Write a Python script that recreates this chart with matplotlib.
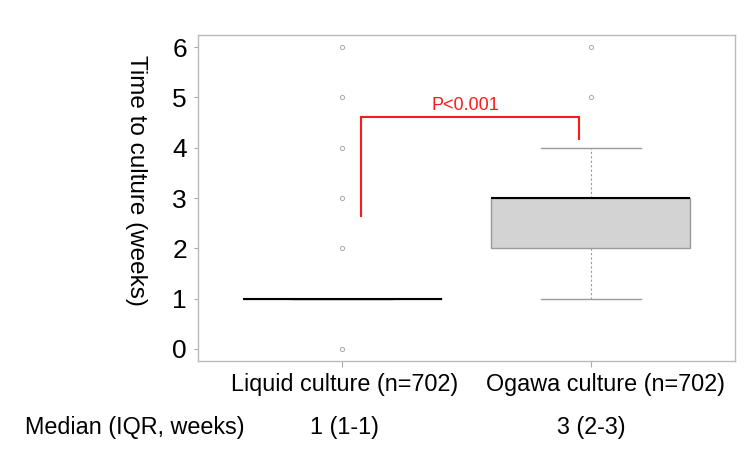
import matplotlib
matplotlib.use("Agg")
import matplotlib.pyplot as plt

plt.rcParams['font.family'] = ['Liberation Sans', 'DejaVu Sans']

groups = ["Liquid culture (n=702)", "Ogawa culture (n=702)"]
medians = [1, 3]
q1 = [1, 2]
q3 = [1, 3]
whisker_low = [1, 1]
whisker_high = [1, 4]
outliers = [[0, 2, 3, 4, 5, 6], [5, 6]]
summary_label = "Median (IQR, weeks)"
summary_text = ["1 (1-1)", "3 (2-3)"]
y_ticks = [0, 1, 2, 3, 4, 5, 6]
p_text = "P<0.001"

W, H = 750, 453
fig = plt.figure(figsize=(7.5, 4.53), dpi=100)
ax = fig.add_axes([198 / W, 1 - 361 / H, (735 - 198) / W, (361 - 35) / H])

stats = []
for i in range(len(groups)):
    stats.append(dict(med=medians[i], q1=q1[i], q3=q3[i],
                      whislo=whisker_low[i], whishi=whisker_high[i],
                      fliers=outliers[i]))

gray = '#9a9a9a'
ax.bxp(stats, positions=[1, 2], widths=0.8, patch_artist=True,
       showfliers=True,
       boxprops=dict(facecolor='#d3d3d3', edgecolor=gray, linewidth=1.0),
       medianprops=dict(color='black', linewidth=1.5),
       whiskerprops=dict(color=gray, linestyle=(0, (2, 2)), linewidth=0.8),
       capprops=dict(color=gray, linewidth=1.0),
       capwidths=0.4,
       flierprops=dict(marker='o', markersize=3, markerfacecolor='none',
                       markeredgecolor='#aaaaaa', markeredgewidth=0.7))

ax.set_xlim(0.42, 2.58)
ax.set_ylim(-0.24, 6.24)
ax.set_yticks(y_ticks)
ax.set_yticklabels([str(t) for t in y_ticks], fontsize=19)
ax.set_xticks([1, 2])
ax.set_xticklabels(['', ''])
ax.tick_params(axis='both', colors='#aaaaaa', width=0.8)
ax.tick_params(axis='y', length=3, pad=5)
ax.tick_params(axis='x', length=4, pad=3)
for lbl in ax.get_yticklabels():
    lbl.set_color('black')
for s in ax.spines.values():
    s.set_color('#bbbbbb')
    s.set_linewidth(1.0)

fig.text(136 / W, 1 - 180 / H, "Time to culture (weeks)", rotation=270,
         fontsize=17.5, ha='center', va='center')

# group labels (the second is shifted right of its tick to avoid overlap)
label_px = [345, 606]
for g, px in zip(groups, label_px):
    fig.text(px / W, 1 - 391 / H, g, fontsize=16.8, ha='center', va='baseline')

# significance bracket
xl, xr, ytop = 1.076, 1.953, 4.62
ax.plot([xl, xl, xr, xr], [2.65, ytop, ytop, 4.17], color='#ff1a1a', linewidth=1.5,
        solid_joinstyle='miter')
ax.text((xl + xr) / 2 - 0.02, 4.75, p_text, color='#ff1a1a', fontsize=13,
        ha='center', va='baseline')

# summary row
fig.text(25 / W, 1 - 434 / H, summary_label, fontsize=16.8, ha='left', va='baseline')
summary_px = [345, 591]
for t, px in zip(summary_text, summary_px):
    fig.text(px / W, 1 - 434 / H, t, fontsize=16.8, ha='center', va='baseline')

fig.savefig("out.png", dpi=100)
